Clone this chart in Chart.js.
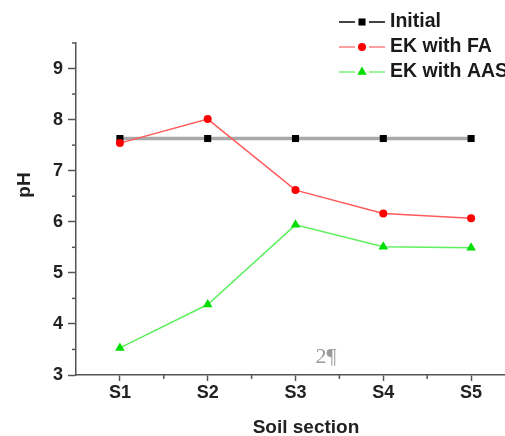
<!DOCTYPE html>
<html>
<head>
<meta charset="utf-8">
<script src="https://cdn.jsdelivr.net/npm/chart.js@4.4.1/dist/chart.umd.min.js"></script>
<style>
  html, body { margin: 0; padding: 0; background: #fff; overflow: hidden; }
  #wrap { width: 505px; height: 436px; overflow: hidden; }
</style>
</head>
<body>
<div id="wrap"><canvas id="ph" width="540" height="436"></canvas></div>
<script>
const sections = ["S1", "S2", "S3", "S4", "S5"];
const initial = [7.63, 7.63, 7.63, 7.63, 7.63];
const ekFA = [7.54, 8.01, 6.62, 6.16, 6.07];
const ekAAS = [3.53, 4.38, 5.94, 5.51, 5.49];
const yTicks = [3, 4, 5, 6, 7, 8, 9];

const boldFont = "'Liberation Sans', Arial, sans-serif";

// legend lines look a bit lighter/darker than the plotted ones
const legendLineColors = ["#444", "#ffa0a0", "#99f599"];

const extras = {
  id: "extras",
  afterDraw(chart) {
    const ctx = chart.ctx;
    const x = chart.scales.x;
    const y = chart.scales.y;
    ctx.save();
    ctx.strokeStyle = "#555";
    ctx.lineWidth = 1.5;
    // minor ticks
    for (let v = 3.5; v <= 9.5; v += 1) {
      const py = y.getPixelForValue(v);
      ctx.beginPath();
      ctx.moveTo(x.left - 4, py);
      ctx.lineTo(x.left, py);
      ctx.stroke();
    }
    for (let i = 0; i < sections.length; i++) {
      const px = x.getPixelForValue(i) + (x.getPixelForValue(1) - x.getPixelForValue(0)) / 2;
      ctx.beginPath();
      ctx.moveTo(px, y.bottom);
      ctx.lineTo(px, y.bottom + 4);
      ctx.stroke();
    }

    // axis titles
    ctx.fillStyle = "#222";
    ctx.font = "bold 19px " + boldFont;
    ctx.textAlign = "center";
    ctx.textBaseline = "middle";
    ctx.fillText("Soil section", 306, 428);
    ctx.save();
    ctx.translate(25, 185);
    ctx.rotate(-Math.PI / 2);
    ctx.fillText("pH", 0, 0);
    ctx.restore();

    // stray page mark
    ctx.fillStyle = "#9a9a9a";
    ctx.font = "22px 'Liberation Serif', serif";
    ctx.fillText("2¶", 326, 357);

    // legend
    const rows = [22, 47, 72];
    chart.data.datasets.forEach((ds, i) => {
      const ry = rows[i];
      ctx.strokeStyle = legendLineColors[i];
      ctx.lineWidth = 2;
      ctx.beginPath();
      ctx.moveTo(339, ry);
      ctx.lineTo(355, ry);
      ctx.moveTo(369, ry);
      ctx.lineTo(385, ry);
      ctx.stroke();
      ctx.fillStyle = ds.pointBackgroundColor;
      ctx.strokeStyle = ds.pointBorderColor;
      Chart.helpers.drawPoint(ctx, { pointStyle: ds.pointStyle, radius: ds.pointRadius, borderWidth: 0, rotation: 0 }, 362, ry);
      ctx.fillStyle = "#1a1a1a";
      ctx.font = "bold 19.5px " + boldFont;
      ctx.textAlign = "left";
      ctx.fillText(ds.label, 390, ry);
    });
    ctx.restore();
  }
};

new Chart(document.getElementById("ph"), {
  type: "line",
  data: {
    labels: sections,
    datasets: [
      {
        label: "Initial",
        data: initial,
        borderColor: "#a9a9a9",
        borderWidth: 3.5,
        pointStyle: "rect",
        pointRadius: 5,
        pointBackgroundColor: "#000",
        pointBorderColor: "#000",
        pointBorderWidth: 0,
        order: 2,
      },
      {
        label: "EK with FA",
        data: ekFA,
        borderColor: "#ff5a5a",
        borderWidth: 1.5,
        pointStyle: "circle",
        pointRadius: 4,
        pointBackgroundColor: "#ff0000",
        pointBorderColor: "#ff0000",
        pointBorderWidth: 0,
        order: 1,
      },
      {
        label: "EK with AAS",
        data: ekAAS,
        borderColor: "#5ef05e",
        borderWidth: 1.5,
        pointStyle: "triangle",
        pointRadius: 5.5,
        pointBackgroundColor: "#00dd00",
        pointBorderColor: "#00dd00",
        pointBorderWidth: 0,
        order: 1,
      },
    ],
  },
  options: {
    responsive: false,
    animation: false,
    layout: { padding: { top: 43, right: 25, left: 0, bottom: 0 } },
    plugins: { legend: { display: false }, tooltip: { enabled: false } },
    scales: {
      x: {
        offset: true,
        afterFit: (s) => { s.height = 61; },
        grid: { offset: false, drawOnChartArea: false, tickLength: 6, tickColor: "#555", tickWidth: 1.5 },
        border: { color: "#555", width: 1.5 },
        ticks: { color: "#222", padding: 1, font: { family: boldFont, size: 18, weight: "bold" } },
      },
      y: {
        min: 3,
        max: 9.5,
        afterFit: (s) => { s.width = 76; },
        afterBuildTicks: (s) => { s.ticks = yTicks.map((v) => ({ value: v })); },
        grid: { drawOnChartArea: false, tickLength: 8, tickColor: "#555", tickWidth: 1.5 },
        border: { color: "#555", width: 1.5 },
        ticks: { color: "#222", padding: 5, font: { family: boldFont, size: 18, weight: "bold" } },
      },
    },
  },
  plugins: [extras],
});
</script>
</body>
</html>
